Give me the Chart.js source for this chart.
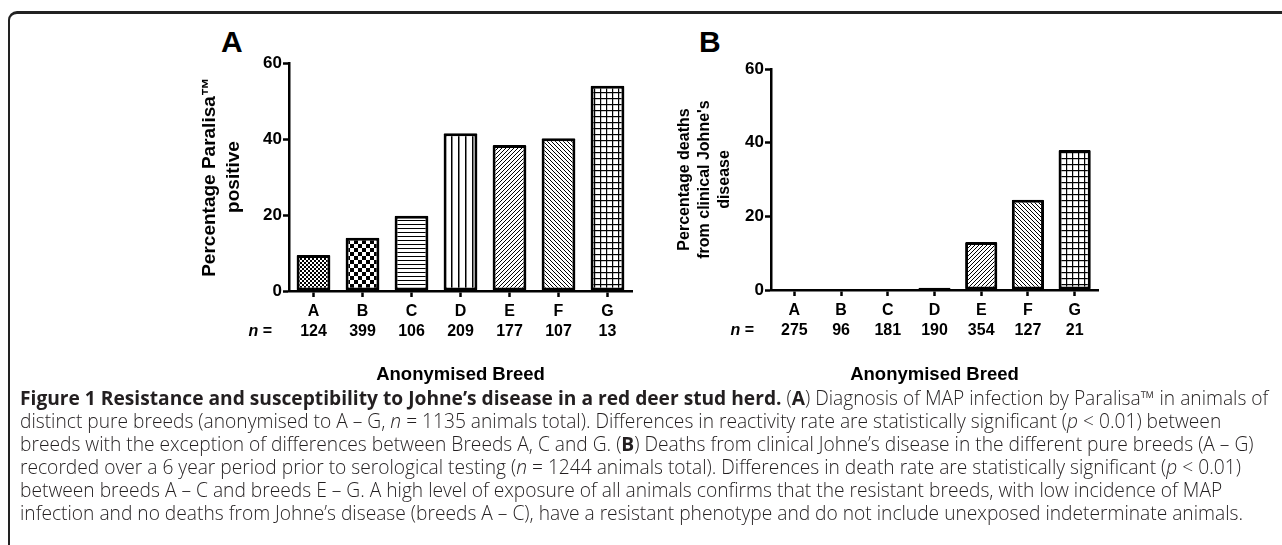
<!DOCTYPE html>
<html>
<head>
<meta charset="utf-8">
<script src="https://cdn.jsdelivr.net/npm/chart.js@4.4.1/dist/chart.umd.min.js"></script>
<style>
  body { margin: 0; background: #fff; width: 1282px; height: 545px; overflow: hidden; position: relative; font-family: "Liberation Sans", Arial, sans-serif; }
  #frame { position: absolute; left: 8px; top: 11px; width: 1400px; height: 700px; border-left: 2px solid #222; border-top: 3px solid #222; border-top-left-radius: 9px; }
  .panel { position: absolute; font-weight: bold; font-size: 30px; color: #000; }
  .wrap { position: absolute; }
  #caption { position: absolute; left: 20px; top: 386px; font-family: "Open Sans", sans-serif; font-weight: 300; font-size: 19.2px; line-height: 23px; color: #231f20; white-space: nowrap; }
  #caption b { font-weight: 700; }
</style>
</head>
<body>
<div id="frame"></div>
<div class="panel" style="left:221px;top:25px">A</div>
<div class="panel" style="left:699px;top:25px">B</div>
<div class="wrap" style="left:150px;top:20px;width:500px;height:380px"><canvas id="chartA"></canvas></div>
<div class="wrap" style="left:640px;top:20px;width:480px;height:380px"><canvas id="chartB"></canvas></div>
<div id="caption">
<div><b>Figure 1 Resistance and susceptibility to Johne’s disease in a red deer stud herd.</b> (<b>A</b>) Diagnosis of MAP infection by Paralisa™ in animals of</div>
<div>distinct pure breeds (anonymised to A – G, <i>n</i> = 1135 animals total). Differences in reactivity rate are statistically significant (<i>p</i> &lt; 0.01) between</div>
<div>breeds with the exception of differences between Breeds A, C and G. (<b>B</b>) Deaths from clinical Johne’s disease in the different pure breeds (A – G)</div>
<div>recorded over a 6 year period prior to serological testing (<i>n</i> = 1244 animals total). Differences in death rate are statistically significant (<i>p</i> &lt; 0.01)</div>
<div>between breeds A – C and breeds E – G. A high level of exposure of all animals confirms that the resistant breeds, with low incidence of MAP</div>
<div>infection and no deaths from Johne’s disease (breeds A – C), have a resistant phenotype and do not include unexposed indeterminate animals.</div>
</div>
<script>
// breeds and values
const breeds = ['A', 'B', 'C', 'D', 'E', 'F', 'G'];
const nParalisa = [124, 399, 106, 209, 177, 107, 13];
const pctParalisa = [9.5, 14.0, 19.8, 41.5, 38.4, 40.2, 54.0];
const nDeaths = [275, 96, 181, 190, 354, 127, 21];
const pctDeaths = [0, 0, 0, 0.6, 13.0, 24.5, 38.0];
const yMax = 60;
const yStep = 20;
const fills = ['fineCheck', 'check', 'hLines', 'vLines', 'diagUp', 'diagDown', 'grid'];

const FONT = '"Liberation Sans", Arial';
const TICK_PAD = 5;
const TICK_LH = 20;

// black & white fill patterns like the original print figure
function makePattern(kind) {
  const c = document.createElement('canvas');
  const size = { fineCheck: 4, check: 8, hLines: 4, vLines: 7, diagUp: 4, diagDown: 4, grid: 6 }[kind];
  c.width = size; c.height = size;
  const g = c.getContext('2d');
  g.fillStyle = '#fff';
  g.fillRect(0, 0, size, size);
  g.fillStyle = '#000';
  g.strokeStyle = '#000';
  if (kind === 'fineCheck' || kind === 'check') {
    const h = size / 2;
    g.fillRect(0, 0, h, h);
    g.fillRect(h, h, h, h);
  } else if (kind === 'hLines') {
    g.fillRect(0, 0, size, 1);
  } else if (kind === 'vLines') {
    g.fillRect(0, 0, 1.5, size);
  } else if (kind === 'grid') {
    g.fillRect(0, 0, size, 1.2);
    g.fillRect(0, 0, 1.2, size);
  } else {
    g.lineWidth = 1;
    g.beginPath();
    if (kind === 'diagUp') {
      g.moveTo(-1, size + 1); g.lineTo(size + 1, -1);
      g.moveTo(-1, 1); g.lineTo(1, -1);
      g.moveTo(size - 1, size + 1); g.lineTo(size + 1, size - 1);
    } else {
      g.moveTo(-1, -1); g.lineTo(size + 1, size + 1);
      g.moveTo(size - 1, -1); g.lineTo(size + 1, 1);
      g.moveTo(-1, size - 1); g.lineTo(1, size + 1);
    }
    g.stroke();
  }
  return g.createPattern(c, 'repeat');
}

const patterns = fills.map(makePattern);

// writes "n =" in front of the second row of tick labels
const nRowLabel = {
  id: 'nRowLabel',
  afterDraw(chart) {
    const ctx = chart.ctx;
    ctx.save();
    ctx.fillStyle = '#000';
    ctx.textAlign = 'right';
    ctx.textBaseline = 'middle';
    const y = chart.chartArea.bottom + 6 + TICK_PAD + TICK_LH * 1.5;
    const x = chart.chartArea.left - 17;
    ctx.font = 'bold 16px ' + FONT;
    ctx.fillText(' =', x, y);
    const w = ctx.measureText(' =').width;
    ctx.font = 'bold italic 16px ' + FONT;
    ctx.fillText('n', x - w, y);
    ctx.restore();
  }
};

function makeChart(id, values, counts, yTitle, titleSize, titlePad, leftWidth, padTop, padRight, xHeight) {
  return new Chart(document.getElementById(id), {
    type: 'bar',
    data: {
      labels: breeds.map((b, i) => [b, String(counts[i])]),
      datasets: [{
        data: values,
        backgroundColor: patterns,
        borderColor: '#000',
        borderWidth: 3,
        borderSkipped: false,
        borderRadius: 1,
        categoryPercentage: 1,
        barPercentage: 0.69
      }]
    },
    options: {
      responsive: true,
      maintainAspectRatio: false,
      animation: false,
      layout: { padding: { top: padTop, right: padRight, left: 0, bottom: 0 } },
      plugins: { legend: { display: false }, tooltip: { enabled: false } },
      scales: {
        x: {
          offset: true,
          grid: { display: true, offset: false, drawOnChartArea: false, drawTicks: true, tickLength: 6, tickWidth: 2.5, tickColor: '#000' },
          border: { display: true, width: 2.5, color: '#000' },
          ticks: { color: '#000', font: { family: FONT, weight: 'bold', size: 16, lineHeight: TICK_LH / 16 }, padding: TICK_PAD, maxRotation: 0, autoSkip: false },
          title: { display: true, text: 'Anonymised Breed', color: '#000', font: { family: FONT, weight: 'bold', size: 18.5 }, padding: { top: 10, bottom: 14 } },
          afterFit(s) { s.height = xHeight; }
        },
        y: {
          min: 0,
          max: yMax,
          grid: { display: true, drawOnChartArea: false, drawTicks: true, tickLength: 6, tickWidth: 2.5, tickColor: '#000' },
          border: { display: true, width: 2.5, color: '#000' },
          ticks: { stepSize: yStep, color: '#000', font: { family: FONT, weight: 'bold', size: 17 }, padding: 1 },
          title: { display: true, text: yTitle, color: '#000', font: { family: FONT, weight: 'bold', size: titleSize, lineHeight: 1.25 }, padding: { top: titlePad } },
          afterFit(s) { s.width = leftWidth; }
        }
      }
    },
    plugins: [nRowLabel]
  });
}

makeChart('chartA', pctParalisa, nParalisa, ['Percentage Paralisa™', 'positive'], 19, 48, 139, 43, 18, 109);
makeChart('chartB', pctDeaths, nDeaths, ['Percentage deaths', 'from clinical Johne\'s', 'disease'], 16, 35, 131, 49, 22, 110);
</script>
</body>
</html>
